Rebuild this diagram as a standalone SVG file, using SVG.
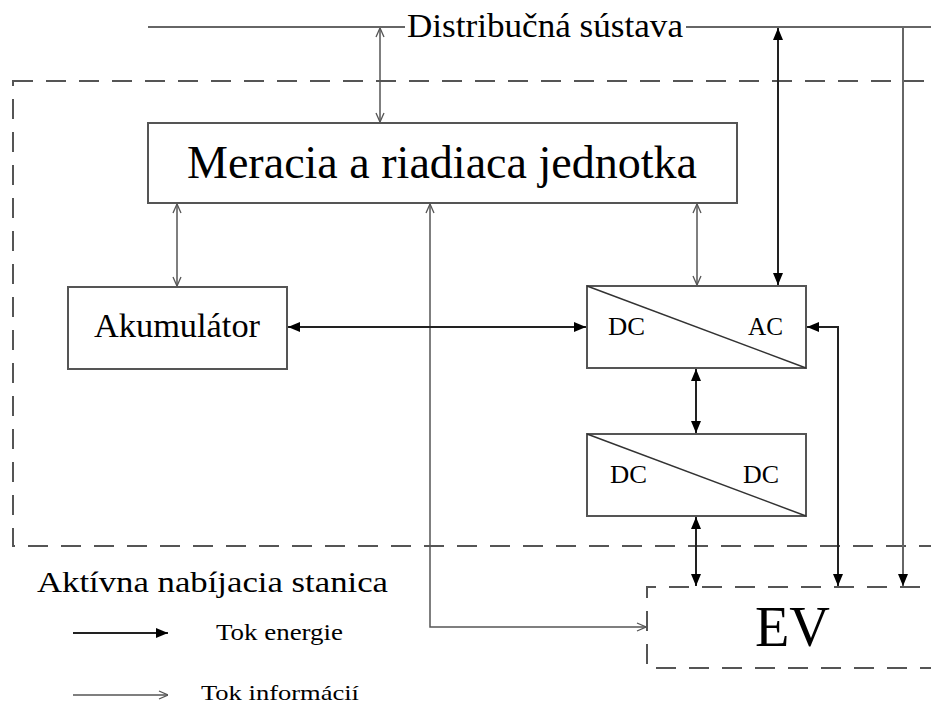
<svg xmlns="http://www.w3.org/2000/svg" width="931" height="707" viewBox="0 0 931 707">
<style>
  text { font-family: "Liberation Serif", "Times New Roman", serif; fill: #000; }
  .box { fill: #fff; stroke: #555; stroke-width: 2; }
  .dash { fill: none; stroke: #555; stroke-width: 2; stroke-dasharray: 20 13; }
  .diag { stroke: #333; stroke-width: 1.5; fill: none; }
  .energy { stroke: #222; stroke-width: 2; fill: none; }
  .info { stroke: #555; stroke-width: 1.5; fill: none; }
  .bus { stroke: #666; stroke-width: 2; fill: none; }
</style>
<defs>
  <marker id="ef" viewBox="0 0 12 10" refX="12" refY="5" markerWidth="12" markerHeight="10" markerUnits="userSpaceOnUse" orient="auto-start-reverse">
    <path d="M0,0 L12,5 L0,10 Z" fill="#000"/>
  </marker>
  <marker id="io" viewBox="0 0 10 10" refX="10" refY="5" markerWidth="10" markerHeight="10" markerUnits="userSpaceOnUse" orient="auto-start-reverse">
    <path d="M1,1 L10,5 L1,9" fill="none" stroke="#555" stroke-width="1.3"/>
  </marker>
</defs>
<rect width="931" height="707" fill="#fff"/>

<g id="station-boundary">
  <rect class="dash" x="13" y="81" width="940" height="465"/>
  <text x="37" y="592" font-size="30" textLength="351" lengthAdjust="spacingAndGlyphs">Aktívna nabíjacia stanica</text>
</g>

<g id="grid">
  <line class="bus" x1="148" y1="27" x2="931" y2="27"/>
  <rect x="405" y="12" width="281" height="30" fill="#fff"/>
  <text x="407" y="37" font-size="34" textLength="276" lengthAdjust="spacingAndGlyphs">Distribučná sústava</text>
</g>

<g id="control-unit">
  <rect class="box" x="148" y="123" width="589" height="80"/>
  <text x="187" y="178" font-size="46" textLength="510" lengthAdjust="spacingAndGlyphs">Meracia a riadiaca jednotka</text>
</g>

<g id="accumulator">
  <rect class="box" x="68" y="287" width="219" height="82"/>
  <text x="94" y="337" font-size="34" textLength="166" lengthAdjust="spacingAndGlyphs">Akumulátor</text>
</g>

<g id="dc-ac">
  <rect class="box" x="587" y="286" width="219" height="82"/>
  <line class="diag" x1="587" y1="286" x2="806" y2="368"/>
  <text x="608" y="335" font-size="26" textLength="37" lengthAdjust="spacingAndGlyphs">DC</text>
  <text x="748" y="335" font-size="26" textLength="35" lengthAdjust="spacingAndGlyphs">AC</text>
</g>

<g id="dc-dc">
  <rect class="box" x="587" y="434" width="219" height="82"/>
  <line class="diag" x1="587" y1="434" x2="806" y2="516"/>
  <text x="610" y="483" font-size="26" textLength="37" lengthAdjust="spacingAndGlyphs">DC</text>
  <text x="743" y="483" font-size="26" textLength="36" lengthAdjust="spacingAndGlyphs">DC</text>
</g>

<g id="ev">
  <path class="dash" d="M940,668 H647 V587 H940"/>
  <text x="755" y="646" font-size="57" textLength="75" lengthAdjust="spacingAndGlyphs">EV</text>
</g>

<g id="connectors">
  <line class="info" x1="380" y1="28" x2="380" y2="122" marker-start="url(#io)" marker-end="url(#io)"/>
  <line class="info" x1="177" y1="204" x2="177" y2="286" marker-start="url(#io)" marker-end="url(#io)"/>
  <line class="info" x1="697" y1="204" x2="697" y2="285" marker-start="url(#io)" marker-end="url(#io)"/>
  <polyline class="info" points="430,204 430,627 646,627" marker-start="url(#io)" marker-end="url(#io)"/>
  <line class="energy" x1="778" y1="28" x2="778" y2="285" marker-start="url(#ef)" marker-end="url(#ef)"/>
  <line class="energy" x1="288" y1="327" x2="586" y2="327" marker-start="url(#ef)" marker-end="url(#ef)"/>
  <polyline class="energy" points="807,327 838,327 838,586" marker-start="url(#ef)" marker-end="url(#ef)"/>
  <line class="energy" x1="696" y1="369" x2="696" y2="433" marker-start="url(#ef)" marker-end="url(#ef)"/>
  <line class="energy" x1="696" y1="517" x2="696" y2="586" marker-start="url(#ef)" marker-end="url(#ef)"/>
  <line class="bus" x1="903" y1="27" x2="903" y2="586" marker-end="url(#ef)"/>
</g>

<g id="legend">
  <line class="energy" x1="73" y1="633" x2="168" y2="633" marker-end="url(#ef)"/>
  <text x="216" y="640" font-size="23" textLength="127" lengthAdjust="spacingAndGlyphs">Tok energie</text>
  <line class="info" x1="73" y1="695" x2="168" y2="695" marker-end="url(#io)"/>
  <text x="201" y="700" font-size="22" textLength="158" lengthAdjust="spacingAndGlyphs">Tok informácií</text>
</g>
</svg>
